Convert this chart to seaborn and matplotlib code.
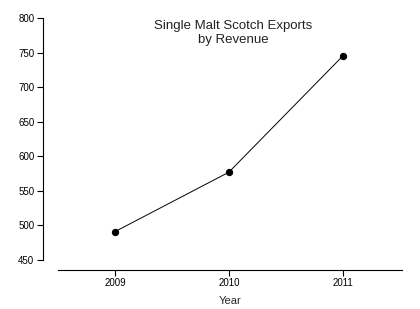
import matplotlib
matplotlib.use("Agg")
import matplotlib.pyplot as plt
import seaborn as sns
import pandas as pd

years = [2009, 2010, 2011]
revenue = [491, 577, 745]
yticks = [450, 500, 550, 600, 650, 700, 750, 800]

sns.set_style("ticks")
plt.rcParams['font.family'] = ['Liberation Sans', 'DejaVu Sans']

df = pd.DataFrame({"Year": years, "Revenue": revenue})

fig = plt.figure(figsize=(4.2, 3.09), dpi=100)
ax = fig.add_axes([58/420, 49/309, 344/420, 242/309])
sns.lineplot(data=df, x="Year", y="Revenue", ax=ax, color="black", linewidth=0.7,
             marker="o", markersize=4.5, markeredgecolor="black")
ax.set_xlim(2008.5, 2011.52)
ax.set_ylim(450, 800)
ax.set_xticks(years)
ax.set_xticklabels([str(y) for y in years])
ax.set_yticks(yticks)
ax.tick_params(axis="both", labelsize=7, length=4, width=0.8, colors="black", pad=2)
ax.set_ylabel("")
ax.set_xlabel("Year", fontsize=8, labelpad=6)
sns.despine(ax=ax)
ax.spines["left"].set_position(("outward", 11))
ax.spines["bottom"].set_position(("outward", 7))
for s in ["left", "bottom"]:
    ax.spines[s].set_linewidth(0.8)
    ax.spines[s].set_color("black")
ax.text(0.51, 0.99, "Single Malt Scotch Exports\nby Revenue", transform=ax.transAxes,
        ha="center", va="top", fontsize=9.5, linespacing=1.2, color="#222222")
fig.savefig("out.png", dpi=100)
